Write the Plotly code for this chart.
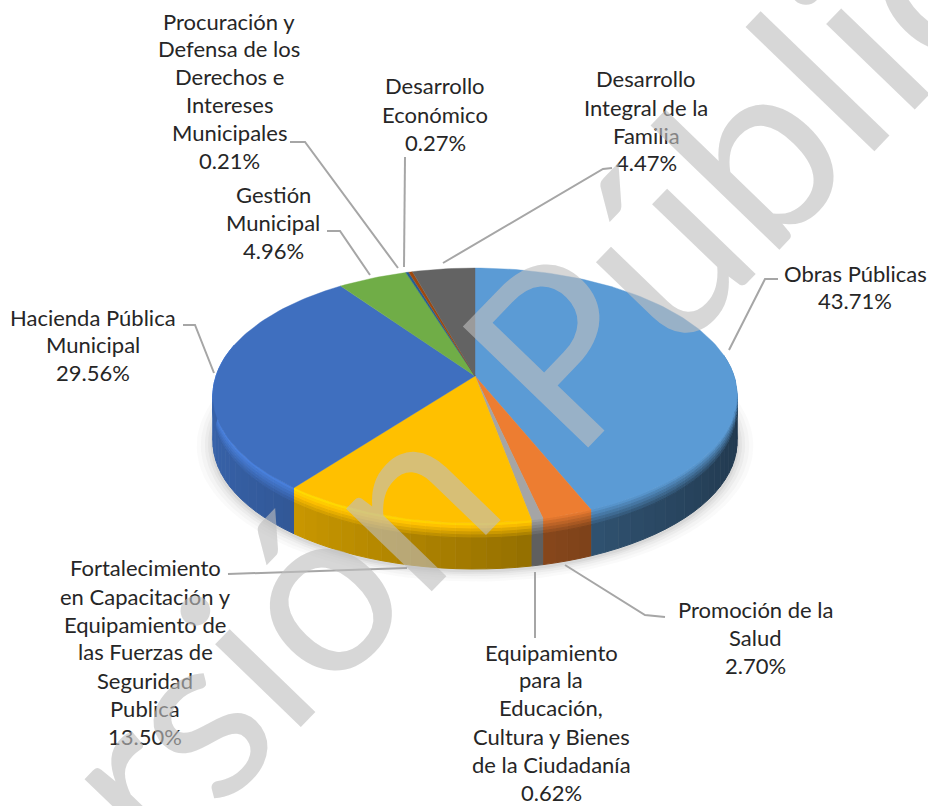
import numpy as np
import plotly.graph_objects as go

# ---- data ----
categories = ["Obras Públicas", "Promoción de la Salud",
              "Equipamiento para la Educación, Cultura y Bienes de la Ciudadanía",
              "Fortalecimiento en Capacitación y Equipamiento de las Fuerzas de Seguridad Publica",
              "Hacienda Pública Municipal", "Gestión Municipal",
              "Procuración y Defensa de los Derechos e Intereses Municipales",
              "Desarrollo Económico", "Desarrollo Integral de la Familia"]
values = [43.71, 2.70, 0.62, 13.50, 29.56, 4.96, 0.21, 0.27, 4.47]
value_labels = ["43.71%", "2.70%", "0.62%", "13.50%", "29.56%", "4.96%", "0.21%", "0.27%", "4.47%"]
colors = ["#5b9bd5", "#ed7d31", "#a5a5a5", "#ffc000", "#3f6fbf", "#70ad47", "#255e91", "#9e480e", "#636363"]

# label layout: wrapped lines, centre x, y of each line
label_lines = [
    ["Obras Públicas"], ["Promoción de la", "Salud"],
    ["Equipamiento", "para la", "Educación,", "Cultura y Bienes", "de la Ciudadanía"],
    ["Fortalecimiento", "en Capacitación y", "Equipamiento de", "las Fuerzas de", "Seguridad", "Publica"],
    ["Hacienda Pública", "Municipal"], ["Gestión", "Municipal"],
    ["Procuración y", "Defensa de los", "Derechos e", "Intereses", "Municipales"],
    ["Desarrollo", "Económico"], ["Desarrollo", "Integral de la", "Familia"],
]
label_x = [855, 755, 551, 145, 93, 273, 229, 435, 646]
label_y = [
    [273, 300], [609, 637, 665], [652, 679, 707, 736, 764, 792],
    [567, 596, 624, 651, 680, 708, 736], [317, 344, 372], [194, 222, 250],
    [21, 48, 76, 104, 132, 160], [85, 114, 142], [78, 107, 135, 162],
]
leaders = [
    [(729, 350), (765, 279), (778, 279)],
    [(565, 565), (645, 615), (665, 617)],
    [(535, 572), (535, 638)],
    [(407, 568), (228, 574)],
    [(214, 373), (195, 325), (183, 325)],
    [(370, 275), (340, 231), (327, 231)],
    [(398, 268), (305, 142), (290, 142)],
    [(404, 267), (405, 157)],
    [(443, 263), (603, 169), (612, 168)],
]

# ---- tilted disc geometry ----
CX, CY, RX, RY, K, DEPTH = 475.0, 376.0, 259.0, 124.5, 0.153, 46.0


def disc(theta, scale=1.0):
    u, v = np.sin(theta) * scale, -np.cos(theta) * scale
    d = 1 - K * v
    return CX + RX * u / d, CY + RY * v / d


def rgb(hexcol):
    return np.array([int(hexcol[i:i + 2], 16) for i in (1, 3, 5)], float)


def css(c):
    c = np.clip(c, 0, 255)
    return f"rgb({int(c[0])},{int(c[1])},{int(c[2])})"


def poly(xs, ys, fill, lw=1.0):
    return go.Scatter(x=xs, y=ys, mode="lines", fill="toself", fillcolor=fill,
                      line=dict(width=lw, color=fill), hoverinfo="skip", showlegend=False)


fig = go.Figure()

# soft shadow under the disc
tt = np.linspace(0, 2 * np.pi, 181)
for grow, a in zip([1.06, 1.045, 1.03, 1.018, 1.008], [0.03, 0.04, 0.05, 0.06, 0.08]):
    x, y = disc(tt, grow)
    fig.add_trace(poly(x, y + DEPTH + 2, f"rgba(90,90,90,{a})", 0))

edges = np.cumsum([0] + values) / sum(values) * 2 * np.pi
band_edges = [0, 3, 6, 9, 12, 15, DEPTH]
LO, HI = np.radians(80), np.radians(285)

# rim, cut in small facets so that the shade can follow the position
for i, col in enumerate(colors):
    a0, a1 = edges[i], edges[i + 1]
    if a1 < LO or a0 > HI:
        continue
    a0, a1 = max(a0, LO), min(a1, HI)
    n = max(1, int(np.ceil((a1 - a0) / np.radians(3))))
    steps = np.linspace(a0, a1, n + 1)
    base = rgb(col)
    for s0, s1 in zip(steps[:-1], steps[1:]):
        u = np.sin(0.5 * (s0 + s1))
        shade = 0.63 - 0.26 * u
        lit = 1.0 + 0.18 * max(-u, 0) + 0.08 * (1 - abs(u))
        if u > 0.2:
            lit = 0.95
        xa, ya = disc(np.array([s0, s1]))
        m = len(band_edges) - 1
        for b in range(m):
            t = b / (m - 1)
            f = lit * (1 - t) + shade * t
            top, bot = band_edges[b], band_edges[b + 1]
            xs = [xa[0], xa[1], xa[1], xa[0]]
            ys = [ya[0] + top, ya[1] + top, ya[1] + bot, ya[0] + bot]
            fig.add_trace(poly(xs, ys, css(base * f)))

# top face
for i, col in enumerate(colors):
    n = max(2, int(np.ceil((edges[i + 1] - edges[i]) / np.radians(1.5))))
    th = np.linspace(edges[i], edges[i + 1], n + 1)
    x, y = disc(th)
    fig.add_trace(poly(np.r_[CX, x, CX], np.r_[CY, y, CY], col, 0.4))

# leader lines
for pts in leaders:
    fig.add_trace(go.Scatter(x=[p[0] for p in pts], y=[p[1] for p in pts], mode="lines",
                             line=dict(color="#a6a6a6", width=2), hoverinfo="skip", showlegend=False))

# labels
annotations = []
for lines, val, lx, ys in zip(label_lines, value_labels, label_x, label_y):
    for txt, ly in zip(lines + [val], ys):
        annotations.append(dict(x=lx, y=ly, text=txt, showarrow=False, xanchor="center", yanchor="middle",
                                font=dict(family="Lato", size=22, color="#262626")))

# watermark
for word, wx, wy, fs in [("Versión", 177, 724, 235), ("Pública", 772, 122, 243)]:
    annotations.append(dict(x=wx, y=wy, text=word, showarrow=False, textangle=-46,
                            xanchor="center", yanchor="middle",
                            font=dict(family="Lato", size=fs, color="rgba(191,191,191,0.62)")))

fig.update_layout(
    width=928, height=806, margin=dict(l=0, r=0, t=0, b=0),
    paper_bgcolor="white", plot_bgcolor="white", showlegend=False,
    xaxis=dict(range=[0, 928], visible=False, fixedrange=True),
    yaxis=dict(range=[806, 0], visible=False, fixedrange=True),
    annotations=annotations,
)
fig.write_html("out.html", config=dict(displayModeBar=False),
               post_script="document.body.style.margin='0';document.body.style.overflow='hidden';")
